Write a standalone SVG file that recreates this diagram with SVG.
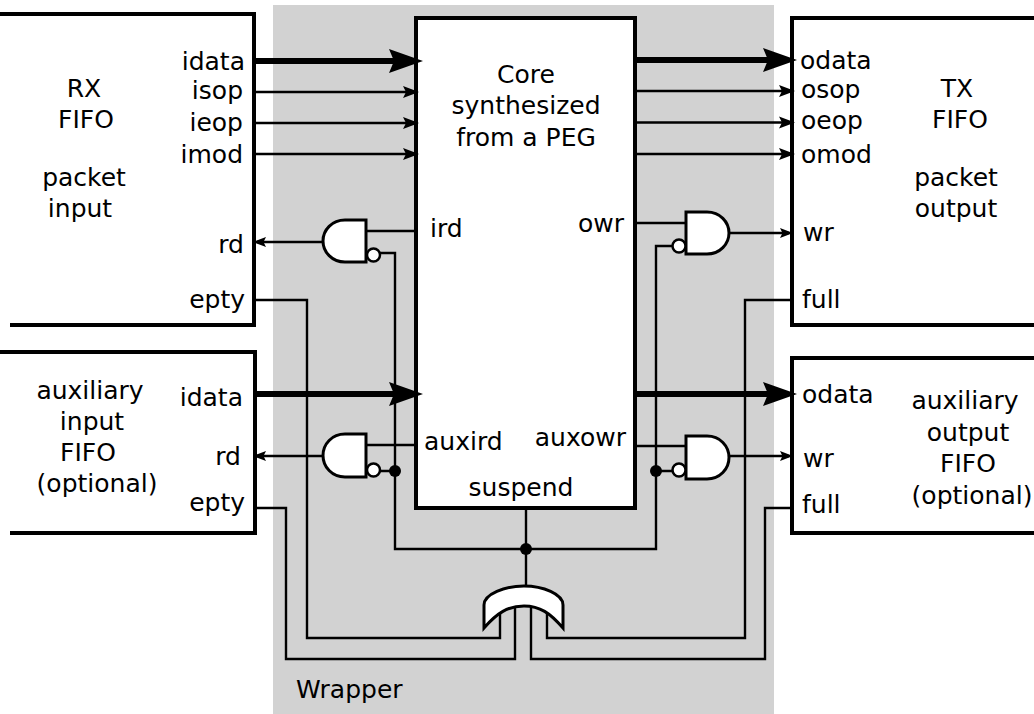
<svg xmlns="http://www.w3.org/2000/svg" width="1034" height="714" viewBox="0 0 1034 714">
<style>
text{font-family:"DejaVu Sans",sans-serif;font-size:25px;fill:#000}
.m{text-anchor:middle}
.e{text-anchor:end}
.box{fill:#fff;stroke:#000;stroke-width:4}
.edge{fill:none;stroke:#000;stroke-width:4}
.w{fill:none;stroke:#000;stroke-width:2.4}
.s{fill:none;stroke:#000;stroke-width:2.6}
.t{fill:none;stroke:#000;stroke-width:6}
.g{fill:#fff;stroke:#000;stroke-width:3}
.n{fill:#fff;stroke:#000;stroke-width:2.5}
</style>
<defs>
<marker id="a" markerUnits="userSpaceOnUse" markerWidth="18" markerHeight="14" refX="12" refY="7" orient="auto"><path d="M0 1 L16 7 L0 13 L3 7Z" fill="#000"/></marker>
<marker id="c" markerUnits="userSpaceOnUse" markerWidth="14" markerHeight="12" refX="9" refY="6" orient="auto"><path d="M0 1 L13 6 L0 11 L2.500 6Z" fill="#000"/></marker>
<marker id="b" markerUnits="userSpaceOnUse" markerWidth="36" markerHeight="28" refX="24" refY="14" orient="auto"><path d="M0 2 L34 14 L0 26 L5 14Z" fill="#000"/></marker>
</defs>
<rect id="wrapper" x="273" y="5" width="501" height="709" fill="#d2d2d2"/>
<g id="rx-fifo"><rect x="0" y="14" width="254" height="311" fill="#fff"/><path class="edge" d="M0 14H254V325H10"/>
<text class="m" x="84" y="97">RX</text><text class="m" x="86" y="128">FIFO</text><text class="m" x="84" y="186">packet</text><text class="m" x="80" y="217">input</text>
<text class="e" x="245" y="70">idata</text><text class="e" x="243" y="99">isop</text><text class="e" x="243" y="131">ieop</text><text class="e" x="243" y="163">imod</text><text class="e" x="244" y="253">rd</text><text class="e" x="245" y="308">epty</text></g>
<g id="aux-in-fifo"><rect x="0" y="352" width="255" height="181" fill="#fff"/><path class="edge" d="M0 352H255V533H10"/>
<text class="m" x="90" y="399">auxiliary</text><text class="m" x="92" y="430">input</text><text class="m" x="88" y="461">FIFO</text><text class="m" x="97" y="492">(optional)</text>
<text class="e" x="243" y="406">idata</text><text class="e" x="241" y="465">rd</text><text class="e" x="245" y="511">epty</text></g>
<g id="tx-fifo"><rect x="792" y="18" width="242" height="307" fill="#fff"/><path class="edge" d="M1034 18H792V325H1034"/>
<text class="m" x="957" y="97">TX</text><text class="m" x="960" y="128">FIFO</text><text class="m" x="956" y="186">packet</text><text class="m" x="956" y="217">output</text>
<text x="800" y="69">odata</text><text x="801" y="98">osop</text><text x="801" y="129">oeop</text><text x="801" y="163">omod</text><text x="803" y="241">wr</text><text x="802" y="308">full</text></g>
<g id="aux-out-fifo"><rect x="792" y="358" width="242" height="175" fill="#fff"/><path class="edge" d="M1034 358H792V533H1034"/>
<text class="m" x="965" y="409">auxiliary</text><text class="m" x="968" y="441">output</text><text class="m" x="968" y="472">FIFO</text><text class="m" x="972" y="504">(optional)</text>
<text x="802" y="403">odata</text><text x="803" y="467">wr</text><text x="802" y="513">full</text></g>
<g id="core"><rect class="box" x="416" y="18" width="219" height="490"/>
<text class="m" x="526" y="83">Core</text><text class="m" x="526" y="114">synthesized</text><text class="m" x="526" y="146">from a PEG</text>
<text x="430" y="237">ird</text><text class="e" x="624" y="232">owr</text><text x="424" y="450">auxird</text><text class="e" x="626" y="446">auxowr</text><text class="m" x="521" y="496">suspend</text></g>
<g id="connectors">
<path class="t" d="M254 61H413" marker-end="url(#b)"/>
<path class="t" d="M635 60H787" marker-end="url(#b)"/>
<path class="t" d="M255 394H413" marker-end="url(#b)"/>
<path class="t" d="M636 394H787" marker-end="url(#b)"/>
<path class="s" d="M254 92H415" marker-end="url(#a)"/>
<path class="s" d="M254 123H415" marker-end="url(#a)"/>
<path class="s" d="M254 154H415" marker-end="url(#a)"/>
<path class="s" d="M635 91H791" marker-end="url(#a)"/>
<path class="s" d="M635 122.500H791" marker-end="url(#a)"/>
<path class="s" d="M635 154H791" marker-end="url(#a)"/>
<path class="w" d="M323 242H257" marker-end="url(#c)"/>
<path class="w" d="M323 456H257" marker-end="url(#c)"/>
<path class="w" d="M729 233H789" marker-end="url(#c)"/>
<path class="w" d="M729 456H789" marker-end="url(#c)"/>
<path class="w" d="M366 231H416M366 445H416M635 223H686M635 446H686"/>
<path class="w" d="M380 253H395V549H656V246H672M380 471H395M656 471H672"/>
<path class="w" d="M526 508V587"/>
<path class="w" d="M255 300H307V638H500V610"/>
<path class="w" d="M255 508H286V659H515V605"/>
<path class="w" d="M792 300H745V638H547V610"/>
<path class="w" d="M792 508H765V659H531V605"/>
<circle cx="395" cy="471" r="6" fill="#000"/><circle cx="656" cy="471" r="6" fill="#000"/><circle cx="526" cy="549" r="6" fill="#000"/>
</g>
<g id="and-ird"><path class="g" d="M366 220V262H345C332 262 323 252 323 241S332 220 345 220Z"/><circle class="n" cx="373.500" cy="255" r="6.500"/></g>
<g id="and-auxird"><path class="g" d="M366 434V477H345C332 477 323 467 323 455.500S332 434 345 434Z"/><circle class="n" cx="373.500" cy="470" r="6.500"/></g>
<g id="and-owr"><path class="g" d="M686 212V254H707C720 254 729 244 729 233S720 212 707 212Z"/><circle class="n" cx="679" cy="246" r="6.500"/></g>
<g id="and-auxowr"><path class="g" d="M686 436V479H707C720 479 729 469 729 457.500S720 436 707 436Z"/><circle class="n" cx="679" cy="470" r="6.500"/></g>
<g id="or-gate"><path class="g" d="M484 628V605C484 594 505 586 524 586C543 586 563 594 563 605V628C550 613 540 606 524 606C508 606 497 613 484 628Z"/></g>
<g id="wrapper-label"><text x="296" y="698">Wrapper</text></g>
</svg>
